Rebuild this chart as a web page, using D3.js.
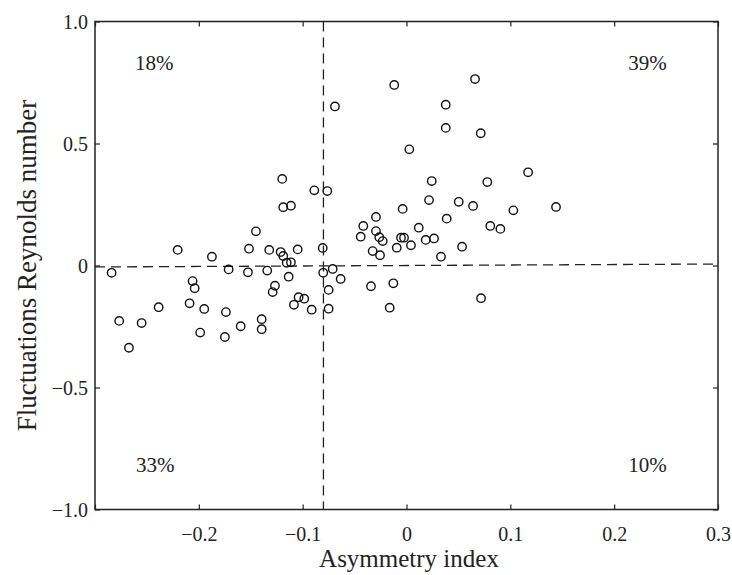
<!DOCTYPE html>
<html><head><meta charset="utf-8">
<script src="https://cdn.jsdelivr.net/npm/d3@7"></script>
<style>
html,body{margin:0;padding:0;background:#fff;}
svg text{font-family:"Liberation Serif","Times New Roman",serif;fill:#222;}
</style>
</head><body>
<svg id="chart" width="732" height="575"></svg>
<script>
// Asymmetry index (x) values
const asymmetry = [
 -0.0118,-0.0689,0.0027,-0.1197,-0.0888,-0.0763,-0.1187,-0.1113,-0.0037,-0.0294,
 -0.0416,-0.145,-0.0441,-0.0294,-0.0262,-0.0229,-0.0053,-0.0024,-0.0094,-0.0326,
 -0.0255,-0.2204,-0.1874,-0.1517,-0.1322,-0.1212,-0.1187,-0.1048,-0.0807,-0.1154,
 -0.1113,-0.284,-0.1713,-0.1527,-0.1341,-0.1135,-0.0802,-0.0711,-0.0634,-0.206,
 -0.204,-0.1267,-0.1289,-0.075,-0.0342,-0.0127,-0.1039,-0.0985,-0.1084,-0.0913,
 -0.075,-0.0162,-0.2387,-0.2089,-0.1948,-0.1739,-0.2767,-0.2551,-0.1395,-0.1597,
 -0.1395,-0.1987,-0.1749,-0.2673,0.066,0.0378,0.0378,0.0715,0.1171,0.0243,
 0.0778,0.0217,0.0503,0.0641,0.144,0.1029,0.0387,0.0807,0.0904,0.0118,
 0.0185,0.0265,0.0043,0.0535,0.0332,0.0718
];
// Fluctuations Reynolds number (y) values
const reynolds = [
 0.740,0.652,0.476,0.355,0.308,0.305,0.239,0.245,0.232,0.199,
 0.162,0.140,0.118,0.141,0.116,0.100,0.114,0.114,0.073,0.059,
 0.042,0.064,0.036,0.069,0.064,0.055,0.039,0.066,0.072,0.011,
 0.013,-0.030,-0.016,-0.028,-0.021,-0.046,-0.030,-0.014,-0.055,-0.064,
 -0.093,-0.083,-0.109,-0.100,-0.085,-0.073,-0.130,-0.136,-0.161,-0.181,
 -0.177,-0.173,-0.171,-0.155,-0.178,-0.191,-0.227,-0.236,-0.220,-0.249,
 -0.261,-0.275,-0.293,-0.337,0.764,0.659,0.564,0.542,0.382,0.346,
 0.342,0.268,0.261,0.244,0.240,0.226,0.192,0.162,0.150,0.155,
 0.105,0.111,0.083,0.077,0.036,-0.134
];
const xTicks = [-0.3,-0.2,-0.1,0,0.1,0.2,0.3];
const xTickLabels = ["","\u22120.2","\u22120.1","0","0.1","0.2","0.3"];
const yTicks = [-1.0,-0.5,0,0.5,1.0];
const yTickLabels = ["\u22121.0","\u22120.5","0","0.5","1.0"];
const vLineX = [-0.08];
const hLine = [[-0.3,-0.006],[0.3,0.006]];
const quadLabels = ["18%","39%","33%","10%"];
const quadX = [-0.243,0.232,-0.242,0.232];
const quadY = [0.801,0.801,-0.846,-0.846];

const svg = d3.select("#chart");
const L=95,R=718,T=21.5,B=509.5;
const x = d3.scaleLinear().domain([-0.3,0.3]).range([L,R]);
const y = d3.scaleLinear().domain([-1,1]).range([B,T]);
const tl = 5;

const fmtX = (d,i)=>xTickLabels[i];
const fmtY = (d,i)=>yTickLabels[i];
const gB = svg.append("g").attr("transform",`translate(0,${B})`)
  .call(d3.axisBottom(x).tickValues(xTicks).tickFormat(fmtX).tickSizeInner(-tl).tickSizeOuter(0).tickPadding(17));
const gT = svg.append("g").attr("transform",`translate(0,${T})`)
  .call(d3.axisTop(x).tickValues(xTicks).tickFormat("").tickSizeInner(-tl).tickSizeOuter(0));
const gL = svg.append("g").attr("transform",`translate(${L},0)`)
  .call(d3.axisLeft(y).tickValues(yTicks).tickFormat(fmtY).tickSizeInner(-tl).tickSizeOuter(0).tickPadding(7));
const gR = svg.append("g").attr("transform",`translate(${R},0)`)
  .call(d3.axisRight(y).tickValues(yTicks).tickFormat("").tickSizeInner(-tl).tickSizeOuter(0));
[gB,gT,gL,gR].forEach(g=>{
  g.select(".domain").remove();
  g.selectAll(".tick line").attr("stroke","#222").attr("stroke-width",1.2);
  g.selectAll("text").attr("font-size",20).attr("fill","#222");
});
gL.selectAll(".tick text").attr("dy","0.35em");

svg.append("rect").attr("x",L).attr("y",T).attr("width",R-L).attr("height",B-T)
  .attr("fill","none").attr("stroke","#222").attr("stroke-width",1.5);

svg.append("line").attr("x1",x(vLineX[0])).attr("x2",x(vLineX[0]))
  .attr("y1",y(1)).attr("y2",y(-1))
  .attr("stroke","#222").attr("stroke-width",1.3).attr("stroke-dasharray","10,6");
svg.append("line").attr("x1",x(hLine[0][0])).attr("y1",y(hLine[0][1]))
  .attr("x2",x(hLine[1][0])).attr("y2",y(hLine[1][1]))
  .attr("stroke","#222").attr("stroke-width",1.3).attr("stroke-dasharray","10,6");

svg.append("g").selectAll("circle").data(asymmetry).join("circle")
  .attr("cx",(d)=>x(d)).attr("cy",(d,i)=>y(reynolds[i])).attr("r",4.2)
  .attr("fill","none").attr("stroke","#111").attr("stroke-width",1.4);

svg.append("g").selectAll("text").data(quadLabels).join("text")
  .attr("x",(d,i)=>x(quadX[i])).attr("y",(d,i)=>y(quadY[i]))
  .attr("text-anchor","middle").attr("font-size",21).text(d=>d);

svg.append("text").attr("x",409).attr("y",567).attr("text-anchor","middle")
  .attr("font-size",25).text("Asymmetry index");
svg.append("text").attr("transform",`translate(36,${(T+B)/2}) rotate(-90)`)
  .attr("text-anchor","middle").attr("font-size",27).text("Fluctuations Reynolds number");
</script>
</body></html>
